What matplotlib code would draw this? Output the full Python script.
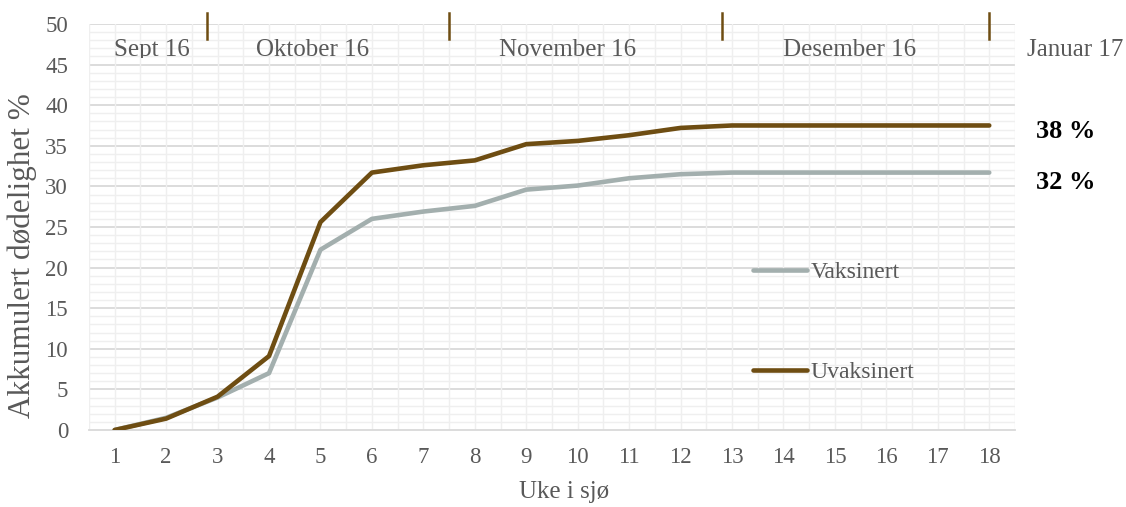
import matplotlib
matplotlib.use("Agg")
import matplotlib.pyplot as plt
from matplotlib.transforms import Bbox, TransformedBbox
import numpy as np

weeks = list(range(1, 19))
vaksinert = [0, 1.5, 4.0, 7.0, 22.2, 26.0, 26.9, 27.6, 29.6, 30.1, 31.0, 31.5, 31.7,
             31.7, 31.7, 31.7, 31.7, 31.7]
uvaksinert = [0, 1.4, 4.1, 9.1, 25.6, 31.7, 32.6, 33.2, 35.2, 35.6, 36.3, 37.2, 37.5,
              37.5, 37.5, 37.5, 37.5, 37.5]
series_labels = ["Vaksinert", "Uvaksinert"]
end_labels = ["32 %", "38 %"]
month_names = ["Sept 16", "Oktober 16", "November 16", "Desember 16", "Januar 17"]
month_label_x = [1.72, 4.85, 9.81, 15.29, 19.67]
month_bounds = [2.8, 7.5, 12.8, 18.0]

plt.rcParams['font.family'] = ['Liberation Serif', 'DejaVu Serif']
TXT = '#595959'
C_VAK = '#a3afae'
C_UVA = '#6e4d12'

fig = plt.figure(figsize=(11.26, 5.07), dpi=100)
ax = fig.add_axes([0.079, 0.1519, 0.8224, 0.8008])

ax.set_xlim(0.5, 18.5)
ax.set_ylim(0, 50)

# gridlines
for y in np.arange(1, 51, 1):
    major = (y % 5 == 0)
    ax.axhline(y, color='#d9d9d9' if major else '#efefef', lw=1.3 if major else 1.0, zorder=0)
for x in np.arange(0.5, 18.51, 0.5):
    ax.axvline(x, color='#efefef', lw=1.0, zorder=0)

l1, = ax.plot(weeks, vaksinert, color=C_VAK, lw=3.3, solid_capstyle='round',
              solid_joinstyle='round', label=series_labels[0], zorder=3)
l2, = ax.plot(weeks, uvaksinert, color=C_UVA, lw=3.3, solid_capstyle='round',
              solid_joinstyle='round', label=series_labels[1], zorder=4)

for sp in ['left', 'right', 'top']:
    ax.spines[sp].set_visible(False)
ax.spines['bottom'].set_color('#d9d9d9')
ax.spines['bottom'].set_linewidth(1.3)

ax.set_xticks(weeks)
ax.set_xticklabels([str(w) for w in weeks])
ax.set_yticks(np.arange(0, 51, 5))
ax.tick_params(axis='both', length=0, labelsize=16.5, colors=TXT)
ax.tick_params(axis='x', pad=12)
ax.tick_params(axis='y', pad=15)

ax.set_xlabel("Uke i sjø", fontsize=18, color=TXT)
ax.xaxis.set_label_coords(0.513, -0.125)
ax.set_ylabel("Akkumulert dødelighet %", fontsize=22.5, color=TXT)
ax.yaxis.set_label_coords(-0.056, 0.43)

# month markers
for xb in month_bounds:
    ax.plot([xb, xb], [48.2, 51.3], color=C_UVA, lw=1.8, clip_on=False, zorder=5)
clip = TransformedBbox(Bbox([[-5, 45.85], [30, 60]]), ax.transData)
for name, xm in zip(month_names, month_label_x):
    t = ax.text(xm, 46.0, name, ha='center', va='baseline', fontsize=18, color=TXT)
    t.set_clip_on(True)
    t.set_clip_box(clip)

# end labels
ax.annotate(end_labels[0], xy=(weeks[-1], vaksinert[-1]), xytext=(34, -7.5),
            textcoords='offset points', ha='left', va='center', fontsize=19,
            fontweight='bold', color='black', annotation_clip=False)
ax.annotate(end_labels[1], xy=(weeks[-1], uvaksinert[-1]), xytext=(34, -4),
            textcoords='offset points', ha='left', va='center', fontsize=19,
            fontweight='bold', color='black', annotation_clip=False)

leg = ax.legend(handles=[l1, l2], loc='upper left', bbox_to_anchor=(0.717, 0.414),
                frameon=False, fontsize=17, labelspacing=3.32, handlelength=2.3,
                handletextpad=0.13, borderaxespad=0, borderpad=0)
for t in leg.get_texts():
    t.set_color(TXT)

fig.savefig("out.png", dpi=100)
